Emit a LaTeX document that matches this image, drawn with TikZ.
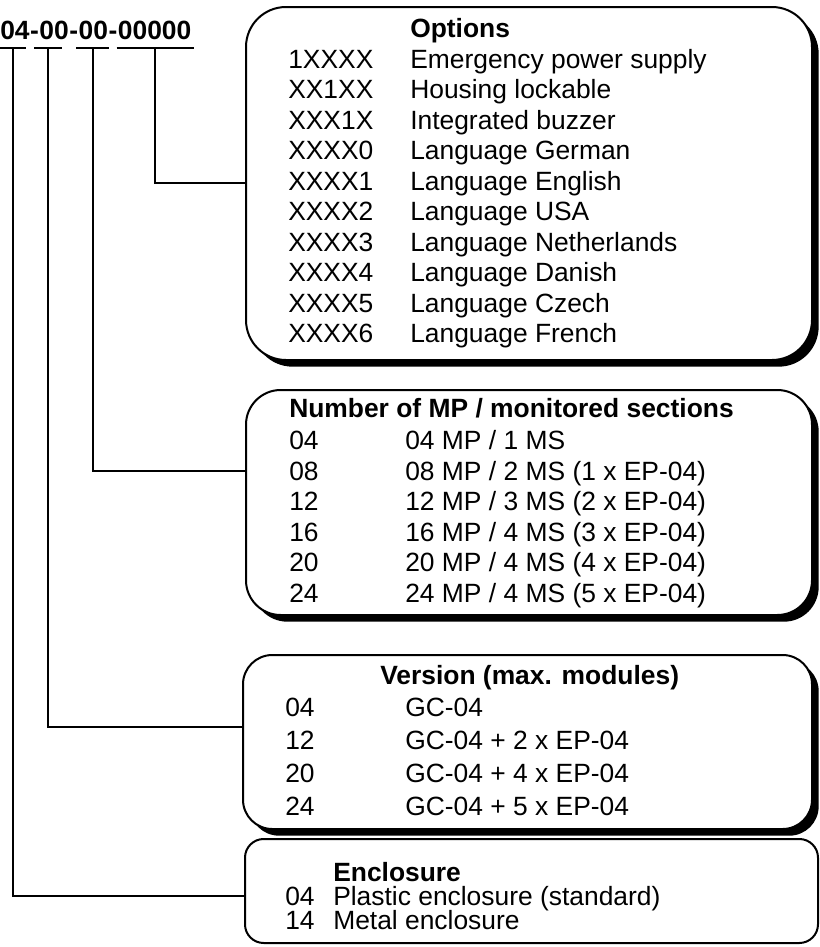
\documentclass[tikz,border=0pt]{standalone}
\usepackage{fontspec}
\setmainfont{Liberation Sans}
\usetikzlibrary{shadows, fit}

\begin{document}
\begin{tikzpicture}[x=0.75pt, y=-0.75pt,
  box/.style={draw, line width=1.5pt, fill=white, inner sep=0pt, rounded corners=#1},
  box/.default=20pt,
  shadowbox/.style={box=#1, drop shadow={shadow xshift=5pt, shadow yshift=-5pt,
                    fill=black, opacity=1}},
  txt/.style={anchor=base west, inner sep=0pt, font=\fontsize{19.8pt}{24pt}\selectfont},
  hd/.style={txt, font=\fontsize{19.8pt}{24pt}\selectfont\bfseries},
  conn/.style={line width=1.5pt}
]
\useasboundingbox (0,0) rectangle (820,947);

%--- Boxes ---
\node[shadowbox=30pt, fit={(246,7) (812,360)}]   (opt) {};
\node[shadowbox=26pt, fit={(246,390) (812,615)}] (mp)  {};
\node[shadowbox=22pt, fit={(243,655) (812,829)}] (ver) {};
\node[box=14pt, fit={(245,839) (818,943)}]       (enc) {};

%--- Type code ---
\node[hd] (g1) at (0,39)         {04};
\node[hd] (d1) at (g1.base east) {-};
\node[hd] (g2) at (d1.base east) {00};
\node[hd] (d2) at (g2.base east) {-};
\node[hd] (g3) at (d2.base east) {00};
\node[hd] (d3) at (g3.base east) {-};
\node[hd] (g4) at (d3.base east) {00000};

\draw[conn] ([shift={(0,9)}]g1.base west) -- ([shift={(-4,9)}]g1.base east) coordinate[midway] (u1);
\draw[conn] ([shift={(-5,9)}]g2.base west) -- ([shift={(-7,9)}]g2.base east) coordinate[midway] (u2);
\draw[conn] ([shift={(-2,9)}]g3.base west) -- ([shift={(1,9)}]g3.base east) coordinate[midway] (u3);
\draw[conn] ([shift={(-1,9)}]g4.base west) -- ([shift={(2,9)}]g4.base east) coordinate[midway] (u4);

%--- Connectors ---
\coordinate (optin) at (246,183);
\coordinate (mpin)  at (246,471);
\coordinate (verin) at (243,727);
\coordinate (encin) at (245,896);
\draw[conn] (u4) |- (optin);
\draw[conn] (u3) |- (mpin);
\draw[conn] (u2) |- (verin);
\draw[conn] (u1) |- (encin);

%--- Options ---
\node[hd]  (opth) at (410,37.5)  {Options};
\node[txt] (o1a)  at (288,68)    {1XXXX};  \node[txt] (o1b)  at (410,68)    {Emergency power supply};
\node[txt] (o2a)  at (288,98.5)  {XX1XX};  \node[txt] (o2b)  at (410,98.5)  {Housing lockable};
\node[txt] (o3a)  at (288,129)   {XXX1X};  \node[txt] (o3b)  at (410,129)   {Integrated buzzer};
\node[txt] (o4a)  at (288,159.5) {XXXX0};  \node[txt] (o4b)  at (410,159.5) {Language German};
\node[txt] (o5a)  at (288,190)   {XXXX1};  \node[txt] (o5b)  at (410,190)   {Language English};
\node[txt] (o6a)  at (288,220.5) {XXXX2};  \node[txt] (o6b)  at (410,220.5) {Language USA};
\node[txt] (o7a)  at (288,251)   {XXXX3};  \node[txt] (o7b)  at (410,251)   {Language Netherlands};
\node[txt] (o8a)  at (288,281.5) {XXXX4};  \node[txt] (o8b)  at (410,281.5) {Language Danish};
\node[txt] (o9a)  at (288,312)   {XXXX5};  \node[txt] (o9b)  at (410,312)   {Language Czech};
\node[txt] (o10a) at (288,342.5) {XXXX6};  \node[txt] (o10b) at (410,342.5) {Language French};

%--- Number of MP ---
\node[hd]  (mph) at (289,417.5) {Number of MP / monitored sections};
\node[txt] (m1a) at (289,449.5) {04};  \node[txt] (m1b) at (405,449.5) {04 MP / 1 MS};
\node[txt] (m2a) at (289,480)   {08};  \node[txt] (m2b) at (405,480)   {08 MP / 2 MS (1 x EP-04)};
\node[txt] (m3a) at (289,510.5) {12};  \node[txt] (m3b) at (405,510.5) {12 MP / 3 MS (2 x EP-04)};
\node[txt] (m4a) at (289,541)   {16};  \node[txt] (m4b) at (405,541)   {16 MP / 4 MS (3 x EP-04)};
\node[txt] (m5a) at (289,571.5) {20};  \node[txt] (m5b) at (405,571.5) {20 MP / 4 MS (4 x EP-04)};
\node[txt] (m6a) at (289,602)   {24};  \node[txt] (m6b) at (405,602)   {24 MP / 4 MS (5 x EP-04)};

%--- Version ---
\node[hd]  (verh) at (380,684.5) {Version (max. modules)};
\node[txt] (v1a)  at (285,716.5) {04};  \node[txt] (v1b) at (405,716.5) {GC-04};
\node[txt] (v2a)  at (285,749.5) {12};  \node[txt] (v2b) at (405,749.5) {GC-04 + 2 x EP-04};
\node[txt] (v3a)  at (285,782.5) {20};  \node[txt] (v3b) at (405,782.5) {GC-04 + 4 x EP-04};
\node[txt] (v4a)  at (285,815.5) {24};  \node[txt] (v4b) at (405,815.5) {GC-04 + 5 x EP-04};

%--- Enclosure ---
\node[hd]  (ench) at (333,881.5) {Enclosure};
\node[txt] (e1a)  at (285,905.5) {04};  \node[txt] (e1b) at (333,905.5) {Plastic enclosure (standard)};
\node[txt] (e2a)  at (285,929.5) {14};  \node[txt] (e2b) at (333,929.5) {Metal enclosure};

\end{tikzpicture}
\end{document}
